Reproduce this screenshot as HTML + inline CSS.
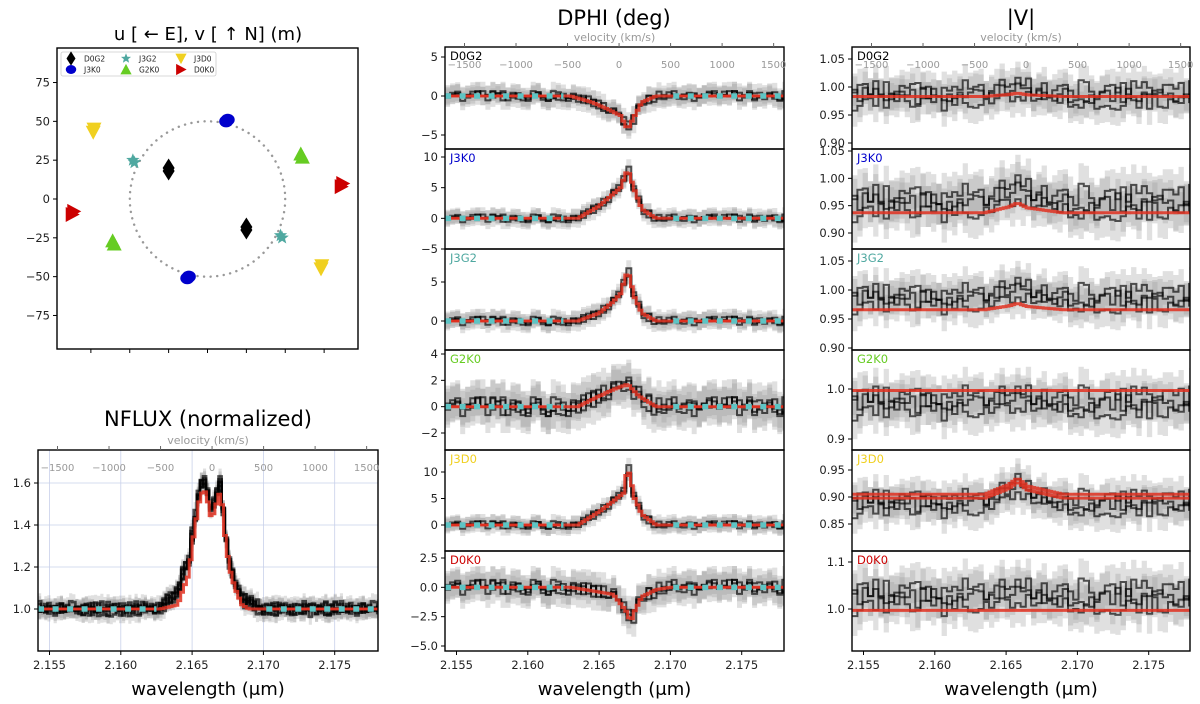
<!DOCTYPE html>
<html><head><meta charset="utf-8"><style>
html,body{margin:0;padding:0;background:#fff;}
svg{display:block;font-family:"DejaVu Sans","Liberation Sans",sans-serif;}
</style></head><body>
<svg id="fig" width="1200" height="704" viewBox="0 0 1200 704" xmlns="http://www.w3.org/2000/svg">
<defs id="defs"></defs>
<text x="208" y="40" font-size="18" text-anchor="middle">u [ ← E], v [ ↑ N] (m)</text>
<text x="208" y="426" font-size="21" text-anchor="middle">NFLUX (normalized)</text>
<text x="614" y="25" font-size="21" text-anchor="middle">DPHI (deg)</text>
<text x="1021" y="25" font-size="21" text-anchor="middle">|V|</text>
<g id="root"></g>
</svg>
<script>
// ---------- data ----------
const baselines=['D0G2','J3K0','J3G2','G2K0','J3D0','D0K0'];
const blColors=['#000000','#0000cc','#4fa8a0','#66cc22','#f0d020','#cc0000'];
const uvU=[25,-13,47,-61,73.5,-86];
const uvV=[18,51,23.5,27,43,8];
const uvU2=[25,-12,48,-60,73,-87];
const uvV2=[20,50,25,29,45,10];
const uvTicks=[75,50,25,0,-25,-50,-75];
const velTicks=[-1500,-1000,-500,0,500,1000,1500];
const wlTicks=[2.155,2.160,2.165,2.170,2.175];
const noise=[0.3,-0.5,0.8,-0.2,0.1,-0.9,0.4,0.6,-0.3,-0.7,0.2,0.9,-0.4,0.0,0.5,-0.6,0.7,-0.1,-0.8,0.3,0.6,-0.2,0.1,-0.5,0.9,-0.3,0.4,-0.9,0.2,0.7,-0.6,0.0,0.5,-0.4,0.8,-0.1,-0.7,0.3,0.2,-0.8,0.6,-0.3,0.9,-0.5,0.1,0.4,-0.2,-0.6,0.7,0.0,-0.4,0.5,-0.9,0.3,0.8,-0.1,0.2,-0.7,0.6,-0.3,0.4,0.1,-0.5,0.9,-0.8,0.0,0.3,-0.2,0.7,-0.6,0.5,-0.4,0.2,0.8,-0.9,0.1,-0.3,0.6,0.4,-0.7,0.0,0.9,-0.5,0.3,-0.1,0.5,-0.8,0.2,0.7,-0.4,-0.2,0.6,-0.6,0.1,0.8,-0.3,0.4];
const nfluxWl=[2.1540,2.1628,2.1640,2.1643,2.1648,2.1650,2.1653,2.1656,2.1660,2.1662,2.1664,2.1667,2.1670,2.1673,2.1676,2.1680,2.1685,2.1690,2.1790];
const nfluxVal=[1.0,1.0,1.02,1.08,1.17,1.3,1.43,1.55,1.56,1.46,1.43,1.5,1.57,1.35,1.2,1.1,1.02,1.0,1.0];
const nfluxExcessWl=[2.1540,2.1625,2.1635,2.1645,2.1650,2.1680,2.1690,2.1700,2.1790];
const nfluxExcessVal=[0,0,0.04,0.08,0.05,0.03,0.03,0,0];
const dphiWl=[
 [2.154,2.163,2.1645,2.1655,2.1665,2.1670,2.1675,2.1680,2.169,2.179],
 [2.154,2.1635,2.165,2.166,2.1665,2.167,2.1675,2.168,2.169,2.179],
 [2.154,2.1635,2.165,2.166,2.1665,2.167,2.1675,2.168,2.169,2.179],
 [2.154,2.1635,2.165,2.166,2.167,2.1678,2.169,2.179],
 [2.154,2.1635,2.165,2.166,2.1667,2.167,2.1675,2.168,2.169,2.179],
 [2.154,2.163,2.1645,2.1655,2.166,2.167,2.1672,2.1675,2.168,2.169,2.170,2.179]];
const dphiVal=[
 [0,0,-0.8,-1.6,-2.5,-4.3,-2.5,-0.8,0,0],
 [0,0,2,4,5,8,4.5,1.5,0,0],
 [0,0,1,2.5,3.5,6.5,3,1,0,0],
 [0,0,0.8,1.3,1.7,0.8,0,0],
 [0,0,2.5,4.5,6,11,5,2,0,0],
 [0,0,-0.3,-0.5,-0.6,-2.2,-3,-2,-0.8,-0.2,0,0]];
const dphiSigma=[0.7,0.7,0.6,0.8,0.8,0.7];
const dphiTicks=[[5,0,-5],[10,5,0,-5],[5,0],[4,2,0,-2],[10,5,0],[2.5,0,-2.5,-5]];
const dphiTickLabels=[["5","0","−5"],["10","5","0","−5"],["5","0"],["4","2","0","−2"],["10","5","0"],["2.5","0.0","−2.5","−5.0"]];
const visBase=[0.983,0.937,0.966,0.997,0.905,0.997];
const visBump=[0.006,0.018,0.011,0,0.03,0];
const visBumpWl=[2.154,2.1635,2.1652,2.1658,2.1665,2.1675,2.169,2.179];
const visBumpShape=[0,0,0.6,1,0.5,0.3,0,0];
const visDataMean=[0.985,0.955,0.985,0.972,0.888,1.025];
const visSigma=[0.017,0.022,0.017,0.022,0.017,0.025];
const visTicks=[[1.05,1.00,0.95,0.90],[1.05,1.00,0.95,0.90],[1.05,1.00,0.95,0.90],[1.0,0.9],[0.95,0.90,0.85],[1.1,1.0]];
const visTickLabels=[["1.05","1.00","0.95","0.90"],["1.05","1.00","0.95","0.90"],["1.05","1.00","0.95","0.90"],["1.0","0.9"],["0.95","0.90","0.85"],["1.1","1.0"]];
const nfluxTicks=[1.6,1.4,1.2,1.0];
const nfluxTickLabels=["1.6","1.4","1.2","1.0"];

// ---------- layout ----------
const NS='http://www.w3.org/2000/svg';
const root=document.getElementById('root');
const defs=document.getElementById('defs');
function el(tag,attrs,parent){const e=document.createElementNS(NS,tag);for(const k in attrs)e.setAttribute(k,attrs[k]);(parent||root).appendChild(e);return e;}
function interp(xs,ys,x){if(x<=xs[0])return ys[0];for(let i=1;i<xs.length;i++){if(x<=xs[i]){const t=(x-xs[i-1])/(xs[i]-xs[i-1]);return ys[i-1]+t*(ys[i]-ys[i-1]);}}return ys[ys.length-1];}
const WL0=2.1664, C=299792;
const rowTops=[47,149,249,350,450,551,651];
const dphiRef=[[5,57,-5,135],[10,157,-5,249],[5,282,0,321],[4,354,-2,433],[10,472,0,525],[2.5,558,-5,646]];
const visRef=[[1.05,59,0.90,143],[1.05,151,0.90,233],[1.05,261,0.90,348],[1.0,389,0.9,439],[0.95,470,0.85,524],[1.1,562,1.0,609]];
let clipId=0;
function makeAxes(x0,y0,w,h,ref){
  const xs=l=>x0+11.5+(l-2.155)*14260;
  const ys=v=>ref[1]+(v-ref[0])*(ref[3]-ref[1])/(ref[2]-ref[0]);
  const id='clip'+(clipId++);
  const cp=el('clipPath',{id:id},defs);el('rect',{x:x0,y:y0,width:w,height:h},cp);
  return {x0,y0,w,h,xs,ys,clip:'url(#'+id+')'};
}
function stepPath(ax,vals,lo,bw){let d='';for(let i=0;i<vals.length;i++){const xa=ax.xs(lo+i*bw),xb=ax.xs(lo+(i+1)*bw),y=ax.ys(vals[i]);d+=(i===0?'M':'L')+xa.toFixed(1)+','+y.toFixed(1)+'H'+xb.toFixed(1);}return d;}
function bandPath(ax,vals,err,lo,bw){let d='';for(let i=0;i<vals.length;i++){const xa=ax.xs(lo+i*bw),xb=ax.xs(lo+(i+1)*bw),y=ax.ys(vals[i]+err);d+=(i===0?'M':'L')+xa.toFixed(1)+','+y.toFixed(1)+'H'+xb.toFixed(1);}for(let i=vals.length-1;i>=0;i--){const xa=ax.xs(lo+i*bw),xb=ax.xs(lo+(i+1)*bw),y=ax.ys(vals[i]-err);d+='L'+xb.toFixed(1)+','+y.toFixed(1)+'H'+xa.toFixed(1);}return d+'Z';}
function drawData(ax,g,modelFn,sig,offs,nb,name,lw){
  const lo=2.1542,bw=(2.1782-2.1542)/nb;
  const all=offs.map((off,r)=>{const vals=[];for(let i=0;i<nb;i++){vals.push(modelFn(lo+(i+0.5)*bw,r)+noise[(i*7+off)%noise.length]*sig);}return vals;});
  all.forEach(vals=>{
    const b=el('path',{d:bandPath(ax,vals,sig*1.7,lo,bw),fill:'#999','fill-opacity':0.3,stroke:'none'},g);
    
    
  });
  all.forEach(vals=>{
    const p=el('path',{d:stepPath(ax,vals,lo,bw),fill:'none',stroke:'#000','stroke-opacity':0.65,'stroke-width':lw||2},g);
    
    
  });
}
function drawModel(ax,g,wls,vals,name){
  const lo=2.1542,nb=120,bw=(2.1782-2.1542)/nb;
  const mv=[];for(let i=0;i<nb;i++)mv.push(interp(wls,vals,lo+(i+0.5)*bw));
  const p=el('path',{d:stepPath(ax,mv,lo,bw),fill:'none',stroke:'#e03020','stroke-opacity':0.85,'stroke-width':3},g);
  
  
}
function drawContinuum(ax,g,val,name){
  [[2.1542,2.1625],[2.1702,2.1782]].forEach(([a,b])=>{
    const l=el('line',{x1:ax.xs(a),x2:ax.xs(b),y1:ax.ys(val),y2:ax.ys(val),stroke:'#e03020','stroke-width':2},g);
    
    
    const c=el('line',{x1:ax.xs(a),x2:ax.xs(b),y1:ax.ys(val),y2:ax.ys(val),stroke:'#5ec4c4','stroke-width':5.5,'stroke-dasharray':'6 8.5'},g);
    
    
  });
}
function frame(ax,name){
  const r=el('rect',{x:ax.x0,y:ax.y0,width:ax.w,height:ax.h,fill:'none',stroke:'#000','stroke-width':1.4});
  
  
}
function yTicks(ax,ticks,labels,name){
  ticks.forEach((t,i)=>{
    const y=ax.ys(t);
    const l=el('line',{x1:ax.x0-4,x2:ax.x0,y1:y,y2:y,stroke:'#000','stroke-width':1});
    
    
    const tx=el('text',{x:ax.x0-7,y:y+4,'font-size':11.5,'text-anchor':'end',fill:'#222'});
    tx.textContent=labels[i];
    
    
  });
}
function xTicks(ax,name){
  wlTicks.forEach(t=>{
    const x=ax.xs(t);
    const l=el('line',{x1:x,x2:x,y1:ax.y0+ax.h,y2:ax.y0+ax.h+4,stroke:'#000','stroke-width':1});
    
    
    const tx=el('text',{x:x,y:ax.y0+ax.h+18,'font-size':11.5,'text-anchor':'middle',fill:'#222'});
    tx.textContent=t.toFixed(3);
    
    
  });
  const xl=el('text',{x:ax.x0+ax.w/2,y:ax.y0+ax.h+44,'font-size':18,'text-anchor':'middle'});
  xl.textContent='wavelength (μm)';
  
  
}
function velAxis(ax,name){
  velTicks.forEach(v=>{
    const x=ax.xs(WL0*(1+v/C));
    const l=el('line',{x1:x,x2:x,y1:ax.y0-4,y2:ax.y0,stroke:'#666','stroke-width':1});
    
    
    const tx=el('text',{x:x,y:ax.y0+21,'font-size':10,'text-anchor':'middle',fill:'#999'});
    tx.textContent=v<0?'−'+(-v):String(v);
    
    
  });
  const t=el('text',{x:ax.x0+ax.w/2,y:ax.y0-6,'font-size':11,'text-anchor':'middle',fill:'#999'});
  t.textContent='velocity (km/s)';
  
  
}
function blLabel(ax,i,name){
  const t=el('text',{x:ax.x0+5,y:ax.y0+13,'font-size':11.5,fill:blColors[i]});
  t.textContent=baselines[i];
  
  
}

// ---------- DPHI column ----------
for(let i=0;i<6;i++){
  const ax=makeAxes(445,rowTops[i],339,rowTops[i+1]-rowTops[i],dphiRef[i]);
  const g=el('g',{'clip-path':ax.clip});
  
  
  drawData(ax,g,(l,r)=>interp(dphiWl[i],dphiVal[i],l)*(1+0.08*(r-1)),dphiSigma[i],[0,31,59],68,'dphi-'+baselines[i].toLowerCase());
  drawModel(ax,g,dphiWl[i],dphiVal[i],'dphi-'+baselines[i].toLowerCase());
  drawContinuum(ax,g,0,'dphi-'+baselines[i].toLowerCase());
  frame(ax,'dphi-'+baselines[i].toLowerCase());
  yTicks(ax,dphiTicks[i],dphiTickLabels[i],'dphi-'+baselines[i].toLowerCase());
  blLabel(ax,i,'dphi-'+baselines[i].toLowerCase());
  if(i===0)velAxis(ax,'dphi');
  if(i===5)xTicks(ax,'dphi');
}
// ---------- |V| column ----------
for(let i=0;i<6;i++){
  const ax=makeAxes(852,rowTops[i],338,rowTops[i+1]-rowTops[i],visRef[i]);
  const g=el('g',{'clip-path':ax.clip});
  
  
  const bump=l=>interp(visBumpWl,visBumpShape,l)*visBump[i];
  drawData(ax,g,(l,r)=>visDataMean[i]+bump(l)+(r-1)*visSigma[i]*0.7,visSigma[i],[5,40,71],65,'vis-'+baselines[i].toLowerCase());
  drawModel(ax,g,visBumpWl,visBumpShape.map(s=>visBase[i]+s*visBump[i]),'vis-'+baselines[i].toLowerCase());
  if(i===4)drawModel(ax,g,visBumpWl,visBumpShape.map(s=>0.898+s*visBump[i]),'vis-'+baselines[i].toLowerCase()+'-2');
  frame(ax,'vis-'+baselines[i].toLowerCase());
  yTicks(ax,visTicks[i],visTickLabels[i],'vis-'+baselines[i].toLowerCase());
  blLabel(ax,i,'vis-'+baselines[i].toLowerCase());
  if(i===0)velAxis(ax,'vis');
  if(i===5)xTicks(ax,'vis');
}
// ---------- NFLUX ----------
(function(){
  const ax=makeAxes(38,450,340,201,[1.6,483,1.0,609]);
  const gg=el('g',{});
  
  
  wlTicks.forEach(t=>el('line',{x1:ax.xs(t),x2:ax.xs(t),y1:ax.y0,y2:ax.y0+ax.h,stroke:'#c8d0ea','stroke-width':0.8},gg));
  nfluxTicks.forEach(t=>el('line',{x1:ax.x0,x2:ax.x0+ax.w,y1:ax.ys(t),y2:ax.ys(t),stroke:'#c8d0ea','stroke-width':0.8},gg));
  const g=el('g',{'clip-path':ax.clip});
  
  
  drawData(ax,g,(l,r)=>interp(nfluxWl,nfluxVal,l)+interp(nfluxExcessWl,nfluxExcessVal,l)+(r-2.5)*0.007,0.022,[0,17,33,50,77,11],110,'nflux',2.6);
  drawModel(ax,g,nfluxWl,nfluxVal,'nflux');
  drawContinuum(ax,g,1.0,'nflux');
  frame(ax,'nflux');
  yTicks(ax,nfluxTicks,nfluxTickLabels,'nflux');
  velAxis(ax,'nflux');
  xTicks(ax,'nflux');
})();
// ---------- UV plot ----------
(function(){
  const x0=57,y0=48,w=301,h=301;
  const ux=u=>207.5-u*1.555, vy=v=>199-v*1.553;
  const circ=el('circle',{cx:ux(0),cy:vy(0),r:50*1.554,fill:'none',stroke:'#999','stroke-width':2.4,'stroke-dasharray':'0.1 6.5','stroke-linecap':'round'});
  
  
  function marker(k,x,y,g){
    const c=blColors[k];let e;
    if(k===0)e=el('polygon',{points:`${x},${y-9.5} ${x+6},${y} ${x},${y+9.5} ${x-6},${y}`,fill:c},g);
    else if(k===1)e=el('ellipse',{cx:x,cy:y,rx:7,ry:6,fill:c},g);
    else if(k===2){let p=[];for(let j=0;j<10;j++){const a=-Math.PI/2+j*Math.PI/5,r=j%2?3:7;p.push((x+r*Math.cos(a)).toFixed(1)+','+(y+r*Math.sin(a)).toFixed(1));}e=el('polygon',{points:p.join(' '),fill:c},g);}
    else if(k===3)e=el('polygon',{points:`${x},${y-7.5} ${x+7.5},${y+6.5} ${x-7.5},${y+6.5}`,fill:c},g);
    else if(k===4)e=el('polygon',{points:`${x-7.5},${y-6.5} ${x+7.5},${y-6.5} ${x},${y+7.5}`,fill:c},g);
    else e=el('polygon',{points:`${x-6.5},${y-7.5} ${x+7.5},${y} ${x-6.5},${y+7.5}`,fill:c},g);
    return e;
  }
  for(let k=0;k<6;k++){
    const g=el('g',{});
    
    
    [[uvU[k],uvV[k]],[uvU2[k],uvV2[k]],[-uvU[k],-uvV[k]],[-uvU2[k],-uvV2[k]]].forEach(([u,v])=>{
      const m=marker(k,ux(u),vy(v),g);
      
      
    });
  }
  const fr=el('rect',{x:x0,y:y0,width:w,height:h,fill:'none',stroke:'#000','stroke-width':1.4});
  
  
  uvTicks.forEach(t=>{
    const y=vy(t);
    const l=el('line',{x1:x0-4,x2:x0,y1:y,y2:y,stroke:'#000'});
    
    
    const tx=el('text',{x:x0-7,y:y+4,'font-size':11.5,'text-anchor':'end',fill:'#222'});
    tx.textContent=t<0?'−'+(-t):String(t);
    
    
    const xx=ux(t);
    const l2=el('line',{x1:xx,x2:xx,y1:y0+h,y2:y0+h+4,stroke:'#000'});
    
    
  });
  const lg=el('g',{});
  
  
  el('rect',{x:61,y:52,width:155,height:24,fill:'#fff',stroke:'#ccc','stroke-width':0.8,rx:2},lg);
  for(let k=0;k<6;k++){
    const col=[0,2,4].includes(k)?[0,2,4].indexOf(k):[1,3,5].indexOf(k);
    const row=[0,2,4].includes(k)?0:1;
    const mx=71+col*55, my=58.5+row*11;
    const eg=el('g',{transform:`translate(${mx},${my}) scale(0.75) translate(${-mx},${-my})`},lg);
    
    
    marker(k,mx,my,eg);
    const t=el('text',{x:mx+13,y:my+3,'font-size':7.5,fill:'#222'},lg);
    t.textContent=baselines[k];
    
    
  }
})();
</script>
</body></html>
